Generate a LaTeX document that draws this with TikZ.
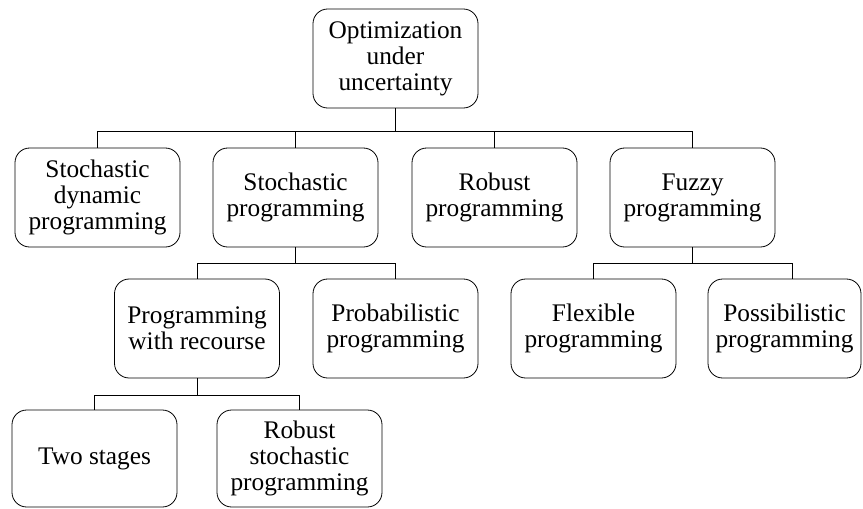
\documentclass[tikz,border=0pt]{standalone}
\usepackage{fontspec}
\setmainfont{Liberation Serif}
\begin{document}
\begin{tikzpicture}[x=0.75pt,y=-0.75pt,
  box/.style={draw, rounded corners=11pt, line width=0.6pt, align=center,
    minimum width=123.75pt, minimum height=74.25pt, inner sep=0pt,
    font=\fontsize{19}{19.5}\selectfont},
  link/.style={line width=0.6pt}]
\useasboundingbox (0,0) rectangle (863,508);
\node[box] (top) at (395.5,58.5) {Optimization\\under\\uncertainty};
\node[box] (sdp) at (97.5,197.5) {Stochastic\\dynamic\\programming};
\node[box] (sp) at (295.5,197.5) {Stochastic\\programming};
\node[box] (rp) at (494.5,197.5) {Robust\\programming};
\node[box] (fp) at (692.5,197.5) {Fuzzy\\programming};
\node[box] (pwr) at (197,328.5) {Programming\\with recourse};
\node[box] (prob) at (395.5,328.5) {Probabilistic\\programming};
\node[box] (flex) at (593.5,328.5) {Flexible\\programming};
\node[box, minimum width=114.75pt] (poss) at (784.5,328.5) {Possibilistic\\programming};
\node[box, minimum height=72.75pt] (two) at (94.5,458.5) {Two stages};
\node[box, minimum height=72.75pt] (rsp) at (299.5,458.5) {Robust\\stochastic\\programming};
\coordinate (b1) at (0,131.5);
\coordinate (b2) at (0,263);
\coordinate (b3) at (0,395);
\coordinate (possTop) at (792,279);
\draw[link] (top.south) -- (top.south |- b1);
\draw[link] (sdp.north) -- (sdp.north |- b1) -| (fp.north);
\draw[link] (sp.north) -- (sp.north |- b1);
\draw[link] (rp.north) -- (rp.north |- b1);
\draw[link] (sp.south) -- (sp.south |- b2);
\draw[link] (pwr.north) -- (pwr.north |- b2) -| (prob.north);
\draw[link] (fp.south) -- (fp.south |- b2);
\draw[link] (flex.north) -- (flex.north |- b2) -| (possTop);
\draw[link] (pwr.south) -- (pwr.south |- b3);
\draw[link] (two.north) -- (two.north |- b3) -| (rsp.north);
\end{tikzpicture}
\end{document}
